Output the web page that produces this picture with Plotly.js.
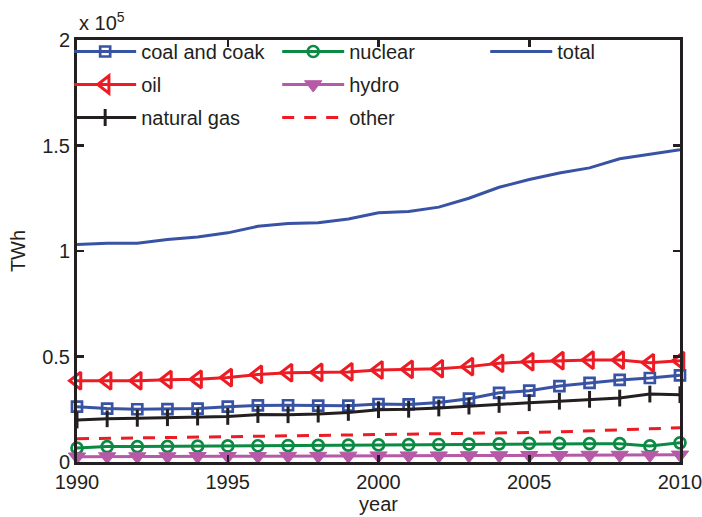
<!DOCTYPE html>
<html>
<head>
<meta charset="utf-8">
<script src="https://cdn.plot.ly/plotly-3.0.1.min.js"></script>
<style>
  html, body { margin: 0; padding: 0; background: #fff; }
  #chart { width: 702px; height: 517px; }
</style>
</head>
<body>
<div id="chart"></div>
<script>
// Electricity generation by source, TWh
const years = [1990, 1991, 1992, 1993, 1994, 1995, 1996, 1997, 1998, 1999, 2000,
               2001, 2002, 2003, 2004, 2005, 2006, 2007, 2008, 2009, 2010];

const coal = [26200, 25300, 25000, 25100, 25300, 26200, 26800, 26900, 26700, 26700, 27500,
              27300, 28200, 30000, 32800, 33800, 36000, 37500, 38900, 39800, 41100];
const oil = [38500, 38500, 38500, 39000, 39200, 40000, 41500, 42300, 42500, 42700, 43600,
             43900, 44200, 45200, 46800, 47500, 48000, 48300, 48300, 47000, 48000];
const naturalGas = [19900, 20500, 20700, 21000, 21300, 21600, 22500, 22400, 22700, 23500, 24800,
                    25000, 25600, 26500, 27300, 28100, 28800, 29700, 30300, 32200, 31900];
const nuclear = [6600, 7300, 7300, 7400, 7500, 7600, 7700, 7800, 7900, 8000, 8100,
                 8200, 8300, 8500, 8600, 8800, 8800, 8700, 8700, 7600, 9100];
const hydro = [2500, 2600, 2600, 2600, 2700, 2700, 2700, 2800, 2800, 2900, 3000,
               3000, 3000, 3100, 3100, 3200, 3200, 3300, 3300, 3300, 3400];
const other = [11000, 11200, 11300, 11500, 11600, 11800, 12000, 12200, 12300, 12500, 12700,
               12900, 13100, 13400, 13700, 14000, 14300, 14700, 15100, 15500, 16200];
const total = [103100, 103700, 103700, 105500, 106600, 108600, 111700, 113000, 113400, 115200, 118100,
               118700, 120800, 125000, 130200, 133900, 137000, 139400, 143700, 145800, 148000];

const yTickVals = [0, 50000, 100000, 150000, 200000];
const yTickText = ['0', '0.5', '1', '1.5', '2'];
const xTickVals = [1990, 1995, 2000, 2005, 2010];

const BLUE = '#3953a4', RED = '#ed1c24', GREEN = '#0b8a43', PURPLE = '#b65aa7', BLACK = '#231f20';
const FONT = 'Liberation Sans, Arial, Helvetica, sans-serif';

function series(name, y, color, symbol, size, legend, extra, mlw) {
  const t = {
    type: 'scatter', mode: symbol ? 'lines+markers' : 'lines', name: name,
    x: years, y: y, legend: legend, legendgroup: name, cliponaxis: false,
    line: Object.assign({ color: color, width: 3 }, extra || {})
  };
  if (symbol) t.marker = { symbol: symbol, size: size, color: color,
                           line: { color: color, width: mlw || 2.5 } };
  return t;
}

const data = [
  series('coal and coak', coal, BLUE, 'square-open', 10, 'legend', null, 2.7),
  series('oil', oil, RED, 'triangle-left-open', 15, 'legend', null, 3),
  series('natural gas', naturalGas, BLACK, 'line-ns-open', 12, 'legend', null, 3),
  series('nuclear', nuclear, GREEN, 'circle-open', 11, 'legend2', null, 2.7),
  series('hydro', hydro, PURPLE, 'triangle-down', 15, 'legend2', null, 1),
  series('other', other, RED, null, 0, 'legend2', { dash: '12px,10px' }),
  series('total', total, BLUE, null, 0, 'legend3')
];

const legendBase = {
  bgcolor: 'rgba(0,0,0,0)', borderwidth: 0, orientation: 'v',
  font: { family: FONT, size: 20, color: BLACK },
  itemwidth: 62, tracegroupgap: 4, traceorder: 'grouped',
  xanchor: 'left', yanchor: 'top', y: 1.019
};

const axisBase = {
  showgrid: false, zeroline: false, showline: true, linecolor: BLACK, linewidth: 3,
  mirror: 'ticks', ticks: 'inside', ticklen: 7, tickwidth: 2.5, tickcolor: BLACK,
  ticklabeloverflow: 'allow',
  tickfont: { family: FONT, size: 20, color: BLACK }
};

const layout = {
  width: 702, height: 517,
  margin: { l: 77, r: 22, t: 40, b: 55 },
  paper_bgcolor: '#fff', plot_bgcolor: '#fff',
  font: { family: FONT, color: BLACK },
  xaxis: Object.assign({}, axisBase, {
    range: [1990, 2010], tickvals: xTickVals,
    title: { text: 'year', font: { family: FONT, size: 20, color: BLACK }, standoff: 4 }
  }),
  yaxis: Object.assign({}, axisBase, {
    range: [0, 200000], tickvals: yTickVals, ticktext: yTickText,
    title: { text: 'TWh', font: { family: FONT, size: 20, color: BLACK }, standoff: 12 }
  }),
  legend: Object.assign({}, legendBase, { x: -0.013 }),
  legend2: Object.assign({}, legendBase, { x: 0.332 }),
  legend3: Object.assign({}, legendBase, { x: 0.677 }),
  annotations: [{
    xref: 'paper', yref: 'paper', x: 0, y: 1, xanchor: 'left', yanchor: 'bottom',
    yshift: 4, showarrow: false, text: 'x 10<sup>5</sup>',
    font: { family: FONT, size: 20, color: BLACK }
  }]
};

Plotly.newPlot('chart', data, layout, { displayModeBar: false, staticPlot: true });
</script>
</body>
</html>
